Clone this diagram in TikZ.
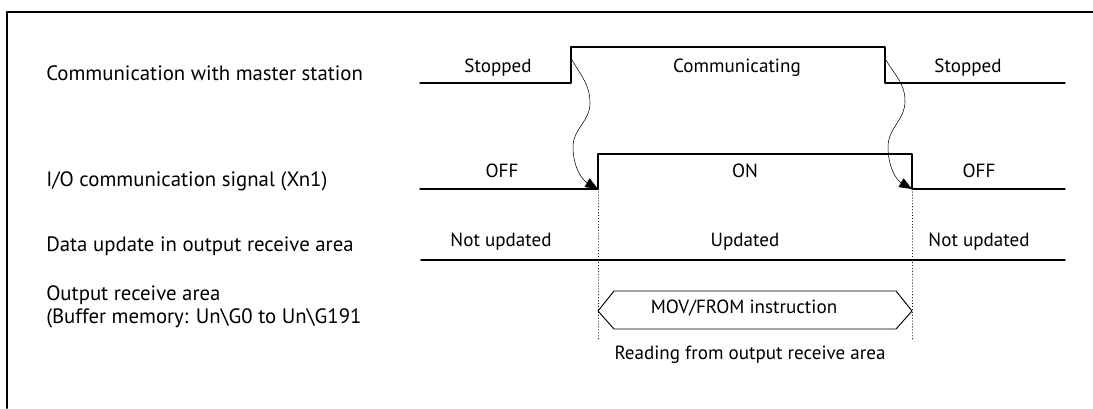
\documentclass[tikz,border=0pt]{standalone}
\usepackage{fontspec}
\setmainfont{PT Sans}
\usepackage{tkz-euclide}
\usetikzlibrary{arrows.meta}

\tikzset{
  wave/.style={line width=1.1pt},
  txt/.style={font=\fontsize{14.3}{17}\selectfont, inner sep=0pt, anchor=base},
  sig/.style={txt, font=\fontsize{15.6}{18}\selectfont, anchor=base west},
  hop/.style={line width=0.4pt, -{Triangle[length=9.5pt,width=7.5pt]}},
}

\begin{document}
\begin{tikzpicture}[x=0.75pt,y=-0.75pt,line join=round]
    \useasboundingbox (0,0) rectangle (1093,408);
    \tkzDefPoints{7/12/F1,1093/12/F2,7/408/F3}
    \tkzDrawPolySeg[line width=1.5pt](F2,F1,F3)
    % waveforms
    \tkzDefPoints{420/83/M1,571/83/M2,571/47/M3,885/47/M4,885/83/M5,1065/83/M6}
    \tkzDefPoints{420/189/X1,598/189/X2,598/154/X3,912/154/X4,912/189/X5,1065/189/X6}
    \tkzDefPoints{421/260/D1,1065/260/D2}
    \tkzDrawPolySeg[wave](M1,M2,M3,M4,M5,M6)
    \tkzDrawPolySeg[wave](X1,X2,X3,X4,X5,X6)
    \tkzDrawSegment[wave](D1,D2)
    \tkzDefPoints{598/311/H1,614/291/H2,896/291/H3,912/311/H4,896/329/H5,614/329/H6}
    \tkzDrawPolygon[line width=0.7pt](H1,H2,H3,H4,H5,H6)
    \tkzDefPoints{598/339/V1,912/339/V2}
    \tkzDrawSegments[dotted,line width=0.6pt](X2,V1 X5,V2)
    \tkzDefPoints{572/60/S1,886/60/S2}
    \draw[hop] (S1) to[out=-60,in=90] (590,103) to[out=-90,in=90] (573,147)
        to[out=-90,in=150] (X2);
    \draw[hop] (S2) to[out=-60,in=90] (905,101) to[out=-90,in=90] (888,147)
        to[out=-90,in=150] (X5);
    % signal names
    \node[sig] (master) at (46,80) {Communication with master station};
    \node[sig] (xn1) at (46,186) {I/O communication signal (Xn1)};
    \node[sig] (update) at (46,251) {Data update in output receive area};
    \node[sig] (area) at (46,300) {Output receive area};
    \node[sig] (buffer) at (46,323) {(Buffer memory: Un\textbackslash G0 to Un\textbackslash G191};
    % states
    \node[txt] (stop1) at (498,72) {Stopped};
    \node[txt] (comm) at (737,72) {Communicating};
    \node[txt] (stop2) at (968,72) {Stopped};
    \node[txt] (off1) at (502,177) {OFF};
    \node[txt] (on) at (745,177) {ON};
    \node[txt] (off2) at (979,177) {OFF};
    \node[txt] (nupd1) at (501,246) {Not updated};
    \node[txt] (upd) at (745,246) {Updated};
    \node[txt] (nupd2) at (979,246) {Not updated};
    \node[txt] (mov) at (744,313) {MOV/FROM instruction};
    \node[txt] (read) at (750,359) {Reading from output receive area};
\end{tikzpicture}
\end{document}
